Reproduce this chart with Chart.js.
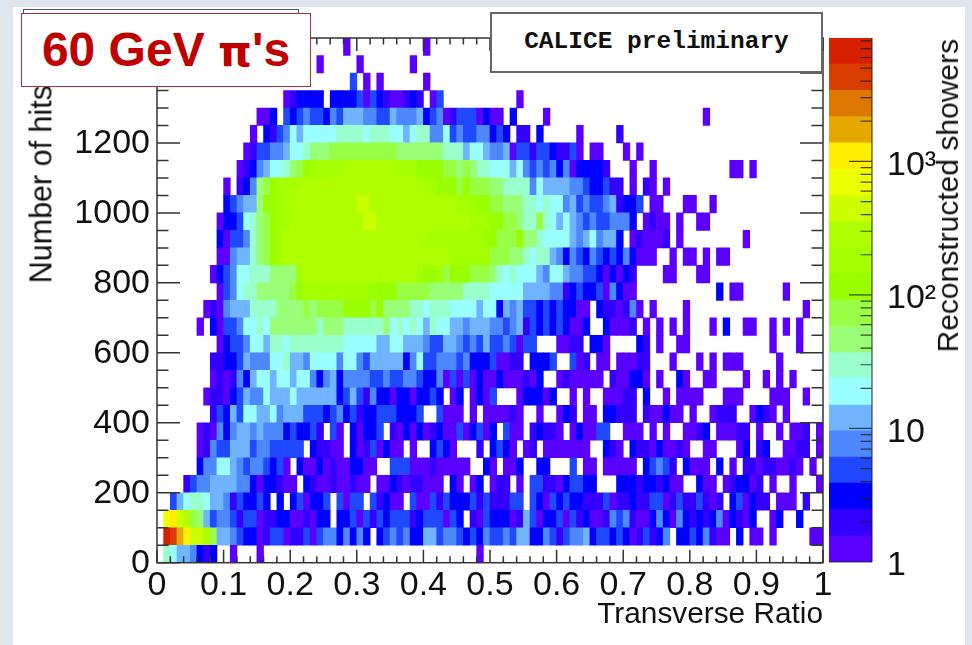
<!DOCTYPE html>
<html>
<head>
<meta charset="utf-8">
<title>60 GeV pions - CALICE preliminary</title>
<script src="https://cdn.jsdelivr.net/npm/chart.js@4"></script>
<style>
  html, body { margin: 0; padding: 0; background: #dfe6f0; overflow: hidden; }
  #page { position: absolute; left: 0; top: 0; width: 972px; height: 645px; filter: blur(0.5px); font-family: "Liberation Sans", sans-serif; color: #111; }
  #panel { position: absolute; left: 13px; top: 7px; width: 952px; height: 638px; background: #fff; }
  canvas { position: absolute; top: 0; }
  #main-chart { left: 0; }
  #color-chart { left: 820px; }
  .ytitle { position: absolute; writing-mode: vertical-rl; transform: rotate(180deg); line-height: 1; white-space: nowrap; }
  #hits-title { left: 26px; bottom: 362px; font-size: 30.5px; }
  #showers-title { left: 933px; bottom: 293px; font-size: 30px; }
  #back-box { position: absolute; left: 23px; top: 9px; width: 274px; height: 40px; border: 1.5px solid #555; background: #fff; }
  #calice-box { position: absolute; left: 490px; top: 12px; width: 329px; height: 57px; border: 2px solid #666; background: #fff;
    font: bold 24.5px "Liberation Mono", monospace; text-align: center; line-height: 56px; }
  #energy-box { position: absolute; left: 21px; top: 13px; width: 288px; height: 72px; border: 1px solid #a33; background: #fff; color: #c00000;
    font: bold 48px "Liberation Sans", sans-serif; text-align: center; line-height: 71px; white-space: nowrap; }
  #energy-box span { font-family: "DejaVu Sans", sans-serif; font-size: 43px; }
</style>
</head>
<body>
<div id="page">
  <div id="panel"></div>
  <canvas id="main-chart" width="972" height="645"></canvas>
  <canvas id="color-chart" width="145" height="645"></canvas>
  <div id="hits-title" class="ytitle">Number of hits</div>
  <div id="showers-title" class="ytitle">Reconstructed showers</div>
  <div id="back-box"></div>
  <div id="calice-box">CALICE preliminary</div>
  <div id="energy-box">60 GeV <span>π</span>'s</div>
</div>
<script>
// bin sizes of the histogram
const binWidth = 0.01;
const binHeight = 50;

// shower counts, one letter per bin, a = lowest colour band, . = empty. First row is the top one (1450-1500 hits)
const countRows = [
  ".......... .......... ........a. .......... a",
  ".......... .......... ....a..... a.......a.",
  ".......... .......... .........d .a.a...... a",
  ".......... .........a bcccc.cccc dadcbaabcb .ad....... ....a.....",
  ".......... .....aac.d cdeddcedff feeddfeeef cdeabdddac aa.c....a. .......... .......... ..a.......",
  ".......... ....a.cbde gfggggghhh hghhhggfgh heegdeddee cdc.bb.c.. ...a.....b",
  ".......... ...abddeef gghiiijjjj jjjjjjiiii iiihhhfggf eefaddbddc bbda.aa... a.a.......",
  ".......... ..abcefggh ijklllllmm mmmmmmlllk kkkjjijihh gggfgedede ceaccccb.. .a..a..... ......aa.a",
  ".......... a.bceijkll lmmmmmmmmm mmmmmmmmmm llkkkjkjjj iihhhhegff ffeedccdbb .a.ba.a...",
  ".......... cdeffikkll mmmmmmmmmm nnmmmmmmmm mmmmmlllkk jjiiihhghg gefdeddefb ccd.aa...a a..a......",
  ".........a ccdghijkll mmmmmmmmmm mnnmmmmmmm mmmmmmmlll kkjjihhjhg fgfededdee ec.abaa.a. .aa.......",
  ".........c addehijklm mmmmmmmmmm mmmmmmmmmm lllllllllk kjjjkiihgg ggfefgeffc .abaaab.a. ........a.",
  ".........a aeffhijklm mmmmmmmmmm mmmmmmmmmm mmmmllllll jjjiihghhf ecedcedcdc ecaaa..a.a a.a.aa....",
  "........ac degghhhiii ilmmmmmmmm mmmmmmmmml kkljkkkjjj ihghgggfeg gfeeddcaca cb....aa.. .aa.......",
  ".........a deghhiiiii jkllllllll llkkkkjjjj jiiiiihhhh gggggffffe ebcdccdaec aa........ ....c.aa.. ....a.....",
  ".......aba efffhhhhii iijijjjjkk kkjkiiiihh ghhhggggfg gcfefddcdc dccaa.cbba bea.a....a .......... .......a..",
  "......a.ca ddegghgiii iiiihiiihh hhhhighghg fhggffefff eedefbdcdc dcaac..caa ab.a.a.a.a ...a.c..aa ..a.a.a...",
  ".........a cddeggfhhg hhhhhhhhgg gggffggfff eddffededf ddedadd... aabb.cca.. ..cb.a..aa .......... ..a...a...",
  "........bb ccdfeeeggh ffeggggegg edfffffceg ddeeedeccc daabb.cccd ..dab.aa.a aabb...a.. .a.a.aaa.. ...a......",
  "........ab abecfggfgg fggecefcee eeddeddeed cceadadaca acaaabac.. abaaaaa.ba acca.a..ca ..aa....a. .a.a.a....",
  ".......abb acdfeegfff gffffffcdf dbeccaccac cdc.ac.aca d...acccac ..a.a..aaa bb.c..a.aa aa...aaa.. ..aaa..a..",
  "........bd cfdggffgef ffdddcdecd bccdddcccd ..daaa.a.a aaaba..a.. acb.aa.ccb bb.baacaa. a..abbb..a cba.a.....",
  "......abae ceffefeeec dccdb.da.c accd.bacac abcaadacda c.daa.bcbb a.acaadd.. aaa.a.a..a abc.aaabb. a..a.aab.a",
  "......abed dfffdeeddd dd.cbbaa.c abdacaa.a. .cdca...b. cdca.ab.aa aaaaa..cba .cbbacaaba ..aa...ac. bc..aabb.a",
  "......ceeg gfedeedcda .caacabaac caa..dddaa abaaaaa..c a.aac..cc. ..d.aa.aaa aa.cdedb.c aaa.c.a.bb abbaaba.a.",
  "....bdeeff ffeecaccba a.cbaabaab aa.aacbabb aaa.ca.ac. abb.a.ddbb acddcc...c ccbccbcaa. .caa.abcca b.a..a...a",
  "..dfghhgff ebdccdc.c. cdaccd.dad d.dbcaa.da adbdcccdbd bbbdd.dcad cdccbbbdab bcbbddabdb bdbab.cdac bb.aaa.b..",
  ".opnmjifde edbddabbcc aabacc.ccd adbdcdddbc dddadc.bad cccabfdacc dadbcaabed ebaacecaec bcbceacbac ..ac..c...",
  ".tsqpnnmjf fedccabdda bbdadeecec ec.cdedecc ffdeedcdce ddedffcced bdeefcddcd cabdbce.cc dcebaa.c.a a.a.....aa",
  ".hgffecbc. .a...a.... .......... .......... ........a."
];

// edges of the 20 colour bands of the z scale
const zEdges = [1, 1.57, 2.47, 3.9, 6.1, 9.6, 15, 24, 37, 58, 92, 144, 226, 355, 558, 877, 1378, 2165, 3402, 5346, 8400];
const zColors = ['#5a00ff', '#3300ff', '#0000ff', '#1f48ff', '#4d88ff', '#70b4ff', '#99ffff', '#99ffcc', '#99ff77', '#99ff44',
  '#99ff00', '#a4ff00', '#b0ff00', '#ccff00', '#eeff00', '#ffee00', '#e6a800', '#dd7700', '#d93d00', '#d62000'];

// tick labels
const yMax = 1500;
const zLabels = { 1: '1', 10: '10', 100: '10²', 1000: '10³' };

// turn the letter rows into floating bars
const cells = [];
countRows.forEach((row, r) => {
  const bins = row.replace(/ /g, '');
  const lo = yMax - (r + 1) * binHeight;
  for (let c = 0; c < bins.length; c++) {
    if (bins[c] === '.') continue;
    cells.push({ x: (c + 0.5) * binWidth, y: [lo, lo + binHeight], band: bins.charCodeAt(c) - 97 });
  }
});

Chart.defaults.font.family = '"Liberation Sans", sans-serif';
Chart.defaults.color = '#111';
Chart.defaults.animation = false;

// ROOT style ticks point into the plot and the frame is closed
const frameTicks = {
  id: 'frameTicks',
  afterDatasetsDraw(chart) {
    const { ctx, chartArea: a, scales: { x, y } } = chart;
    ctx.save();
    ctx.strokeStyle = '#333';
    ctx.lineWidth = 1.5;
    ctx.strokeRect(a.left, a.top, a.right - a.left, a.bottom - a.top);
    ctx.beginPath();
    for (let v = 0; v <= 50; v++) {
      const px = x.getPixelForValue(v / 50);
      const len = v % 5 === 0 ? 13 : 6.5;
      ctx.moveTo(px, a.bottom); ctx.lineTo(px, a.bottom - len);
      ctx.moveTo(px, a.top); ctx.lineTo(px, a.top + len);
    }
    for (let v = 0; v <= yMax; v += 50) {
      const py = y.getPixelForValue(v);
      const len = v % 200 === 0 ? 23 : 11.5;
      ctx.moveTo(a.left, py); ctx.lineTo(a.left + len, py);
      ctx.moveTo(a.right, py); ctx.lineTo(a.right - len, py);
    }
    ctx.stroke();
    ctx.restore();
  }
};

new Chart(document.getElementById('main-chart'), {
  type: 'bar',
  plugins: [frameTicks],
  data: {
    datasets: [{
      data: cells,
      grouped: false,
      barThickness: 6.67,
      borderWidth: 0,
      backgroundColor: c => zColors[c.raw.band]
    }]
  },
  options: {
    responsive: false,
    events: [],
    layout: { padding: { top: 38, right: 149 } },
    plugins: { legend: { display: false }, tooltip: { enabled: false } },
    scales: {
      x: {
        type: 'linear', min: 0, max: 1, offset: false,
        afterFit: s => { s.height = 82.3; },
        grid: { display: false, drawTicks: false },
        border: { display: false },
        ticks: { stepSize: 0.1, padding: 3, maxRotation: 0, autoSkip: false, font: { size: 34 }, callback: v => String(Math.round(v * 10) / 10) },
        title: { display: true, text: 'Transverse Ratio', align: 'end', font: { size: 29.8 }, padding: { top: 0, bottom: 12 } }
      },
      y: {
        type: 'linear', min: 0, max: yMax,
        afterFit: s => { s.width = 157; },
        grid: { display: false, drawTicks: false },
        border: { display: false },
        ticks: { stepSize: 200, includeBounds: false, padding: 7, labelOffset: 1, autoSkip: false, font: { size: 34 }, callback: v => String(v) }
      }
    }
  }
});

// colour bar, its own small chart on a log axis
const colorTicks = {
  id: 'colorTicks',
  afterDatasetsDraw(chart) {
    const { ctx, chartArea: a, scales: { y } } = chart;
    ctx.save();
    ctx.strokeStyle = 'rgba(30,30,30,0.8)';
    ctx.lineWidth = 1.2;
    ctx.beginPath();
    y.ticks.forEach(t => {
      const lead = +t.value.toPrecision(1);
      if (Math.abs(lead - t.value) > 1e-6) return;
      const py = y.getPixelForValue(t.value);
      const len = zLabels[t.value] ? 23 : 11.5;
      ctx.moveTo(a.right, py); ctx.lineTo(a.right - len, py);
    });
    ctx.moveTo(a.right, a.top); ctx.lineTo(a.right, a.bottom);
    ctx.moveTo(a.left, a.bottom); ctx.lineTo(a.right, a.bottom);
    ctx.stroke();
    ctx.restore();
  }
};

new Chart(document.getElementById('color-chart'), {
  type: 'bar',
  plugins: [colorTicks],
  data: {
    labels: ['z'],
    datasets: zColors.map((color, i) => ({
      data: [[zEdges[i], zEdges[i + 1]]],
      backgroundColor: color,
      borderWidth: 0,
      grouped: false,
      barPercentage: 1,
      categoryPercentage: 1
    }))
  },
  options: {
    responsive: false,
    events: [],
    layout: { padding: { left: 9, top: 38, bottom: 83 } },
    plugins: { legend: { display: false }, tooltip: { enabled: false } },
    scales: {
      x: { display: false },
      y: {
        type: 'logarithmic', position: 'right', min: 1, max: 8400,
        afterFit: s => { s.width = 93; },
        grid: { display: false, drawTicks: false },
        border: { display: false },
        ticks: { padding: 15, labelOffset: 4, autoSkip: false, font: { size: 34 }, callback: v => zLabels[v] || '' }
      }
    }
  }
});
</script>
</body>
</html>
